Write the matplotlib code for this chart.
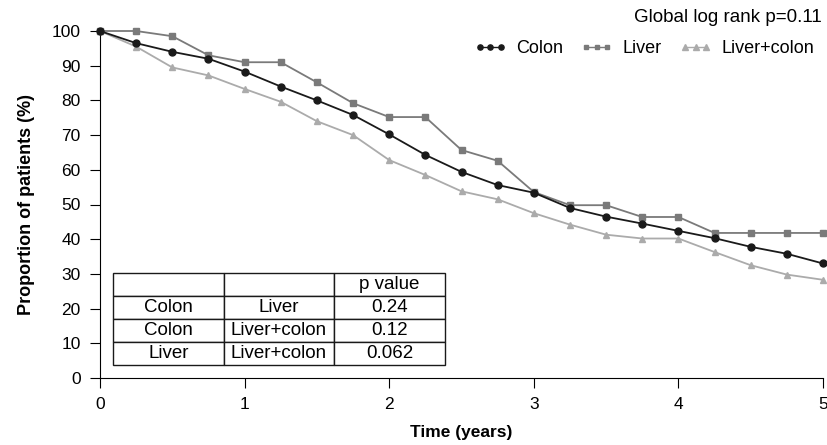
import numpy as np
import matplotlib.pyplot as plt

plt.rcParams['font.family'] = ['Liberation Sans', 'DejaVu Sans']

# time points (years)
years = [0, 0.25, 0.5, 0.75, 1.0, 1.25, 1.5, 1.75, 2.0, 2.25, 2.5,
         2.75, 3.0, 3.25, 3.5, 3.75, 4.0, 4.25, 4.5, 4.75, 5.0]

colon = [100, 96.5, 94, 92, 88.3, 84, 80, 75.8, 70.2, 64.3, 59.4,
         55.6, 53.4, 49, 46.5, 44.5, 42.4, 40.3, 37.8, 35.8, 33]
liver = [100, 100, 98.5, 93, 91, 91, 85.2, 79.2, 75.2, 75.2, 65.7,
         62.6, 53.6, 49.8, 49.8, 46.4, 46.4, 41.8, 41.8, 41.8, 41.8]
liver_colon = [100, 95.5, 89.5, 87.2, 83.3, 79.6, 74, 70, 62.8, 58.5, 53.8,
               51.5, 47.5, 44.2, 41.3, 40.2, 40.2, 36.3, 32.5, 29.8, 28.3]

table_rows = [['', '', 'p value'],
              ['Colon', 'Liver', '0.24'],
              ['Colon', 'Liver+colon', '0.12'],
              ['Liver', 'Liver+colon', '0.062']]

fig = plt.figure(figsize=(8.27, 4.45), dpi=100)
ax = fig.add_axes([100 / 827, 67 / 445, 723 / 827, 347 / 445])

ax.plot(years, colon, color='#1a1a1a', marker='o', markersize=5, lw=1.3,
        label='Colon', clip_on=False, zorder=4)
ax.plot(years, liver, color='#7a7a7a', marker='s', markersize=4.5, lw=1.3,
        label='Liver', clip_on=False, zorder=3)
ax.plot(years, liver_colon, color='#ababab', marker='^', markersize=5, lw=1.3,
        label='Liver+colon', clip_on=False, zorder=2)

ax.set_xlim(0, 5)
ax.set_ylim(0, 100)
ax.set_xticks([0, 1, 2, 3, 4, 5])
ax.set_yticks(range(0, 101, 10))
ax.spines['top'].set_visible(False)
ax.spines['right'].set_visible(False)
ax.tick_params(direction='out', length=7, pad=7, labelsize=12.5)
ax.set_xlabel('Time (years)', fontsize=12.5, fontweight='bold', labelpad=9)
ax.set_ylabel('Proportion of patients (%)', fontsize=13, fontweight='bold', labelpad=12)

leg = ax.legend(loc='upper right', bbox_to_anchor=(1.01, 1.02), ncol=3, frameon=False,
                numpoints=3, handlelength=1.75, columnspacing=1.0, handletextpad=0.55,
                fontsize=13, markerscale=0.75)
for h in leg.legend_handles:
    h.set_linewidth(1.0)
fig.text(822 / 827, 1 - 18 / 445, 'Global log rank p=0.11', ha='right', va='center',
         fontsize=13.5)

tbl = ax.table(cellText=table_rows, cellLoc='center',
               bbox=[13 / 723, 13 / 347, 332 / 723, 92 / 347])
tbl.auto_set_font_size(False)
tbl.set_fontsize(13.5)
for cell in tbl.get_celld().values():
    cell.set_linewidth(1.0)
    cell.set_edgecolor('#1a1a1a')

fig.savefig('out.png', dpi=100)
